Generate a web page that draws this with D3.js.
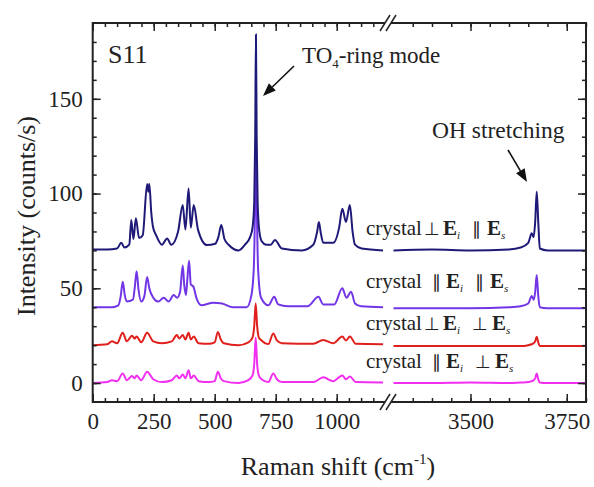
<!DOCTYPE html>
<html>
<head>
<meta charset="utf-8">
<script src="https://d3js.org/d3.v7.min.js"></script>
<style>
  body { margin: 0; background: #fff; }
</style>
</head>
<body>
<svg id="chart" width="594" height="487"></svg>
<script>
// ---- data, intensities already offset as plotted ----
// low-wavenumber window (0-1200 cm-1)
var xLowA = [0, 60, 100, 117, 130, 150, 158, 167, 177, 190, 205, 223, 228, 232, 240, 247, 260, 284, 305, 322,
             350, 369, 380, 393, 402, 414, 432, 468, 502, 515, 527, 540, 557, 598, 624, 645, 655, 662, 666, 669,
             672, 676, 683, 692, 712, 730, 747, 775, 857, 904, 920, 927, 935, 945, 986, 1010, 1023, 1038, 1054, 1065,
             1075, 1102, 1190];
var yLowPerpPar = [70.5, 70.5, 71, 74, 71.5, 73, 86, 76, 87, 76.5, 78, 105, 101, 105, 90, 82.5, 78, 73, 76.3, 73,
                   80, 94, 81, 102.7, 82, 94, 80.7, 72.8, 73.5, 77, 83.4, 76, 73, 70, 73, 77, 82, 95, 130, 184,
                   130, 95, 80, 75, 73, 73, 75.5, 71, 70, 73, 80, 85, 79, 74, 74, 82, 92, 85, 94, 80,
                   73, 71, 70];

var xLowB = [0, 80, 105, 115, 123, 132, 140, 165, 172, 180, 188, 199, 212, 223, 232, 240, 269, 291, 311, 332,
             346, 358, 369, 375, 382, 388, 395, 402, 412, 426, 445, 494, 530, 575, 631, 650, 660, 665, 669, 673,
             678, 690, 720, 744, 760, 800, 880, 925, 945, 990, 1023, 1040, 1059, 1075, 1100, 1190];
var yLowParPar = [40, 40, 41, 46, 53.5, 46, 43, 44, 50, 59, 49, 43, 46, 56, 50, 47, 43, 45, 43, 46.4,
                  45, 48, 62, 52, 46.4, 55, 64.5, 52, 51, 44.5, 41, 42.4, 42, 40, 40, 46, 60, 90, 133, 90,
                  60, 45, 41, 45.5, 41.5, 40.5, 40.5, 45.5, 41.5, 41.5, 50, 45, 48.2, 42, 40.5, 40];

var xLowC = [0, 60, 79, 100, 123, 140, 161, 172, 180, 199, 223, 248, 283, 324, 345, 355, 369, 380, 393, 402,
             414, 434, 475, 500, 513, 525, 537, 598, 638, 655, 662, 668, 674, 681, 692, 720, 740, 755, 775, 904,
             945, 986, 1023, 1038, 1054, 1078, 1190];
var yLowPerpPerp = [20, 20.5, 22, 21, 26.5, 22, 25, 23.5, 24.5, 21.5, 26.5, 22, 21, 22, 25.3, 23.5, 25.3, 23, 26.5, 23,
                    24.5, 21, 20.7, 21.5, 27, 23, 21, 20, 21.5, 24, 30, 42, 30, 24, 22.5, 20.6, 26.2, 22.5, 21, 20.7,
                    22.7, 21, 24.6, 22.5, 24.6, 20.7, 20.5];
var yLowParPerp = [0, 0.5, 1.5, 1, 5, 1.5, 3.7, 2.5, 4, 1.5, 6, 2, 0.5, 1.5, 4, 2.5, 4.5, 2.5, 6.8, 2.5,
                   4, 1, 0.5, 1, 6, 2.5, 1, 0, 1.5, 4, 10, 24, 10, 4, 2, 0.5, 5, 2, 0.5, 0.5,
                   3, 1, 4, 2, 3.5, 0.5, 0.3];

// high-wavenumber window (OH stretching)
var xHigh = [3300, 3400, 3500, 3600, 3630, 3650, 3659, 3664, 3668, 3672, 3676, 3680, 3700, 3800];
var yHighPerpPar  = [70, 70.5, 70, 70.5, 71.5, 74, 79, 77, 85, 101, 85, 71, 70, 70];
var yHighParPar   = [39.5, 39.5, 39.5, 40, 40.5, 42, 46, 44, 48, 57, 46, 40, 39.5, 39.5];
var yHighPerpPerp = [19.5, 19.5, 19.5, 19.5, 19.5, 20, 20.5, 21, 22, 24.4, 21.5, 19.5, 19.5, 19.5];
var yHighParPerp  = [0, 0, 0.3, 0, 0.3, 0.5, 1, 1.5, 2.5, 5.1, 2, 0.3, 0, 0];

var xTicksLow = [0, 250, 500, 750, 1000];
var xTicksHigh = [3500, 3750];
var yTicks = [0, 50, 100, 150];

var seriesColors = ["#1f1a78", "#7236e6", "#e0201c", "#f22ef0"];
// symbols: relation of crystal to E_i, and of E_i to E_s
var labelSymbols = [["\u22A5", "\u2225"], ["\u2225", "\u2225"], ["\u22A5", "\u22A5"], ["\u2225", "\u22A5"]];
var labelLevels = [78, 50, 28, 8];

var series = [
  { low: d3.zip(xLowA, yLowPerpPar), high: d3.zip(xHigh, yHighPerpPar) },
  { low: d3.zip(xLowB, yLowParPar), high: d3.zip(xHigh, yHighParPar) },
  { low: d3.zip(xLowC, yLowPerpPerp), high: d3.zip(xHigh, yHighPerpPerp) },
  { low: d3.zip(xLowC, yLowParPerp), high: d3.zip(xHigh, yHighParPerp) }
];

// ---- layout ----
var FONT = "Liberation Serif";
var L = 92.7, R = 586, T = 23, B = 402, brk = 388;
var xLo = d3.scaleLinear().domain([0, 1200]).range([L, 385.5]);
var xHi = d3.scaleLinear().domain([3300, 3800]).range([393.5, R]);
var y = d3.scaleLinear().domain([-10, 190]).range([B, T]);

var svg = d3.select("#chart").attr("font-family", FONT);
svg.append("rect").attr("width", 594).attr("height", 487).attr("fill", "#fff");

// curves (magenta first, navy on top)
var plot = svg.append("g");
d3.range(series.length).reverse().forEach(function(i) {
  var s = series[i];
  [[s.low, xLo], [s.high, xHi]].forEach(function(p) {
    var line = d3.line().x(d => p[1](d[0])).y(d => y(d[1])).curve(d3.curveMonotoneX);
    plot.append("path").datum(p[0])
        .attr("d", line)
        .attr("fill", "none")
        .attr("stroke", seriesColors[i])
        .attr("stroke-width", 2)
        .attr("stroke-linejoin", "round");
  });
});

// ---- axes ----
function ticksOf(sc, step, skipEnd) {
  var d = sc.domain();
  return d3.range(Math.ceil(d[0] / step) * step, d[1] + 1e-6, step)
           .filter(v => !skipEnd || (v > d[0] && v < d[1]));
}
function styleAxis(g) {
  g.select(".domain").remove();
  g.attr("font-family", FONT);
  g.selectAll("line").attr("stroke", "#222").attr("stroke-width", 1.5);
  g.selectAll("text").attr("font-size", 23).attr("fill", "#222");
}
function xAxes(pos, ax) {
  [[xLo, xTicksLow, ticksOf(xLo, 50).filter(v => v < 1200)],
   [xHi, xTicksHigh, ticksOf(xHi, 50).filter(v => v > 3300)]]
  .forEach(function(a) {
    svg.append("g").attr("transform", "translate(0," + pos + ")")
      .call(ax(a[0]).tickValues(a[2]).tickSize(-4).tickFormat(""))
      .call(styleAxis);
    svg.append("g").attr("transform", "translate(0," + pos + ")")
      .call(ax(a[0]).tickValues(a[1]).tickSize(-8).tickPadding(11)
              .tickFormat(pos === B ? d3.format("d") : ""))
      .call(styleAxis);
  });
}
xAxes(B, d3.axisBottom);
xAxes(T, d3.axisTop);

var yMinor = ticksOf(y, 10, true);
[[L, d3.axisLeft, true], [R, d3.axisRight, false]].forEach(function(a) {
  svg.append("g").attr("transform", "translate(" + a[0] + ",0)")
    .call(a[1](y).tickValues(yMinor).tickSize(-4).tickFormat(""))
    .call(styleAxis);
  svg.append("g").attr("transform", "translate(" + a[0] + ",0)")
    .call(a[1](y).tickValues(yTicks).tickSize(-8).tickPadding(10)
            .tickFormat(a[2] ? d3.format("d") : ""))
    .call(styleAxis);
});

// frame
svg.append("rect").attr("x", L).attr("y", T).attr("width", R - L).attr("height", B - T)
   .attr("fill", "none").attr("stroke", "#222").attr("stroke-width", 2);

// axis break marks
[T, B].forEach(function(yy) {
  svg.append("rect").attr("x", brk - 3).attr("y", yy - 3).attr("width", 6).attr("height", 6).attr("fill", "#fff");
  [-3, 3].forEach(function(dx) {
    svg.append("line")
      .attr("x1", brk + dx - 5).attr("y1", yy + 8)
      .attr("x2", brk + dx + 5).attr("y2", yy - 8)
      .attr("stroke", "#222").attr("stroke-width", 1.5);
  });
});

// ---- text ----
svg.append("text").attr("x", 338).attr("y", 475).attr("text-anchor", "middle").attr("font-size", 26)
  .attr("fill", "#222")
  .call(t => {
    t.append("tspan").text("Raman shift (cm");
    t.append("tspan").attr("font-size", 15).attr("dy", -11).text("-1");
    t.append("tspan").attr("dy", 11).text(")");
  });

svg.append("text").attr("transform", "translate(35,216) rotate(-90)").attr("fill", "#222")
  .attr("text-anchor", "middle").attr("font-size", 26).text("Intensity (counts/s)");

svg.append("text").attr("x", 108).attr("y", 63).attr("font-size", 26).attr("fill", "#222").text("S11");

svg.append("text").attr("x", 302).attr("y", 63).attr("font-size", 23).attr("fill", "#222")
  .call(t => {
    t.append("tspan").text("TO");
    t.append("tspan").attr("font-size", 13).attr("dy", 5).text("4");
    t.append("tspan").attr("dy", -5).text("-ring mode");
  });

svg.append("text").attr("x", 432).attr("y", 138).attr("font-size", 23.5).attr("fill", "#222").text("OH stretching");

function arrow(x1, y1, x2, y2) {
  var a = Math.atan2(y2 - y1, x2 - x1), len = 13, w = 5;
  var bx = x2 - len * Math.cos(a), by = y2 - len * Math.sin(a);
  svg.append("line").attr("x1", x1).attr("y1", y1).attr("x2", bx).attr("y2", by)
     .attr("stroke", "#111").attr("stroke-width", 1.6);
  svg.append("path")
     .attr("d", "M" + x2 + "," + y2 +
                "L" + (bx - w * Math.sin(a)) + "," + (by + w * Math.cos(a)) +
                "L" + (bx + w * Math.sin(a)) + "," + (by - w * Math.cos(a)) + "Z")
     .attr("fill", "#111");
}
arrow(294, 66, 263, 96);
arrow(508, 150, 527, 182);

// polarisation labels
labelSymbols.forEach(function(sym, i) {
  var perp1 = sym[0] === "\u22A5";
  var perp2 = sym[1] === "\u22A5";
  var t = svg.append("text").attr("x", xLo(1120)).attr("y", y(labelLevels[i]))
    .attr("font-size", 21).attr("fill", "#222");
  t.append("tspan").text("crystal");
  t.append("tspan").attr("dx", perp1 ? 2 : 10).attr("font-size", 18).text(sym[0]);
  t.append("tspan").attr("dx", perp1 ? 3 : 5).attr("font-weight", "bold").text("E");
  t.append("tspan").attr("font-size", 11).attr("font-style", "italic").attr("dy", 4).text("i");
  t.append("tspan").attr("dy", -4).attr("dx", 12).attr("font-size", 18).text(sym[1]);
  t.append("tspan").attr("dx", perp2 ? 4 : 6).attr("font-weight", "bold").text("E");
  t.append("tspan").attr("font-size", 11).attr("font-style", "italic").attr("dy", 4).text("s");
});
</script>
</body>
</html>
